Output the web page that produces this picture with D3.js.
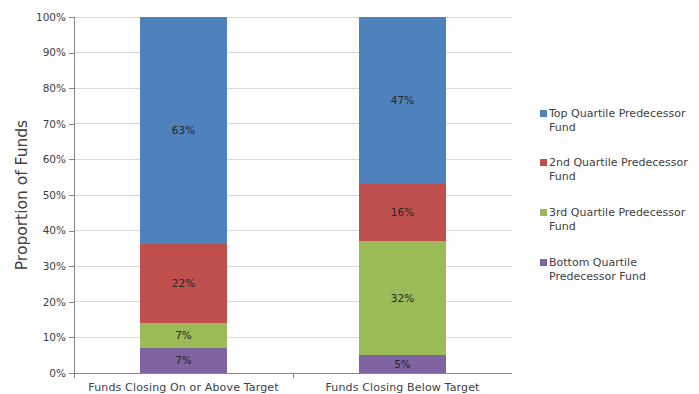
<!DOCTYPE html>
<html>
<head>
<meta charset="utf-8">
<script src="https://cdn.jsdelivr.net/npm/d3@7"></script>
<style>
  html, body { margin: 0; padding: 0; background: #fff; }
  svg { display: block; font-family: "DejaVu Sans", "Liberation Sans", sans-serif; }
</style>
</head>
<body>
<svg id="chart" width="699" height="394"></svg>
<script>
// Share of funds by predecessor-fund quartile, for each closing outcome
const categories = ["Funds Closing On or Above Target", "Funds Closing Below Target"];
const seriesNames = [
  "Bottom Quartile Predecessor Fund",
  "3rd Quartile Predecessor Fund",
  "2nd Quartile Predecessor Fund",
  "Top Quartile Predecessor Fund"
];
const bottomQuartile = [7, 5];
const thirdQuartile = [7, 32];
const secondQuartile = [22, 16];
const topQuartile = [63, 47];
const yTicks = [0, 0.1, 0.2, 0.3, 0.4, 0.5, 0.6, 0.7, 0.8, 0.9, 1.0];

const colors = {
  "Top Quartile Predecessor Fund": "#4F81BD",
  "2nd Quartile Predecessor Fund": "#C0504D",
  "3rd Quartile Predecessor Fund": "#9BBB59",
  "Bottom Quartile Predecessor Fund": "#8064A2"
};
const legendLines = {
  "Top Quartile Predecessor Fund": ["Top Quartile Predecessor", "Fund"],
  "2nd Quartile Predecessor Fund": ["2nd Quartile Predecessor", "Fund"],
  "3rd Quartile Predecessor Fund": ["3rd Quartile Predecessor", "Fund"],
  "Bottom Quartile Predecessor Fund": ["Bottom Quartile", "Predecessor Fund"]
};

const seriesValues = [bottomQuartile, thirdQuartile, secondQuartile, topQuartile];
const rows = categories.map((c, i) => {
  const r = { category: c };
  seriesNames.forEach((s, j) => { r[s] = seriesValues[j][i]; });
  return r;
});

const svg = d3.select("#chart");
const plot = { left: 74, right: 512, top: 17, bottom: 373 };

const x = d3.scaleBand().domain(categories).range([plot.left, plot.right]).paddingInner(0.6).paddingOuter(0.3);
const xBand = d3.scaleBand().domain(categories).range([plot.left, plot.right]);
const y = d3.scaleLinear().domain([0, 1]).range([plot.bottom, plot.top]);

const stacked = d3.stack().keys(seriesNames).offset(d3.stackOffsetExpand)(rows);

// gridlines
svg.append("g")
  .selectAll("line")
  .data(yTicks.filter(t => t > 0))
  .join("line")
  .attr("x1", plot.left).attr("x2", plot.right)
  .attr("y1", d => y(d)).attr("y2", d => y(d))
  .attr("stroke", "#d9d9d9").attr("stroke-width", 1)
  .attr("shape-rendering", "crispEdges");

// y axis
const yAxis = svg.append("g")
  .attr("transform", `translate(${plot.left},0)`)
  .call(d3.axisLeft(y).tickValues(yTicks).tickFormat(d3.format(".0%")).tickSize(5).tickPadding(3));
yAxis.select(".domain").attr("stroke", "#868686").attr("shape-rendering", "crispEdges");
yAxis.selectAll(".tick line").attr("stroke", "#868686").attr("shape-rendering", "crispEdges");
yAxis.selectAll(".tick text").attr("font-size", 10.5).attr("fill", "#404040").attr("font-family", "DejaVu Sans");

// bars
const layers = svg.append("g").selectAll("g")
  .data(stacked)
  .join("g")
  .attr("fill", d => colors[d.key]);

layers.selectAll("rect")
  .data(d => d.map(v => Object.assign(v, { key: d.key })))
  .join("rect")
  .attr("x", d => x(d.data.category))
  .attr("width", x.bandwidth())
  .attr("y", d => y(d[1]))
  .attr("height", d => y(d[0]) - y(d[1]))
  .attr("shape-rendering", "crispEdges");

// value labels
layers.selectAll("text")
  .data(d => d)
  .join("text")
  .attr("x", d => x(d.data.category) + x.bandwidth() / 2)
  .attr("y", d => (y(d[0]) + y(d[1])) / 2)
  .attr("dy", "0.35em")
  .attr("text-anchor", "middle")
  .attr("font-size", 10.5)
  .attr("fill", "#262626")
  .text(d => d.data[d.key] + "%");

// x axis
svg.append("line")
  .attr("x1", plot.left).attr("x2", plot.right)
  .attr("y1", plot.bottom).attr("y2", plot.bottom)
  .attr("stroke", "#868686").attr("shape-rendering", "crispEdges");
svg.append("g")
  .selectAll("line")
  .data(categories.slice(0, -1))
  .join("line")
  .attr("x1", d => xBand(d) + xBand.bandwidth()).attr("x2", d => xBand(d) + xBand.bandwidth())
  .attr("y1", plot.bottom).attr("y2", plot.bottom + 5)
  .attr("stroke", "#868686").attr("shape-rendering", "crispEdges");
svg.append("line")
  .attr("x1", plot.left).attr("x2", plot.left)
  .attr("y1", plot.bottom).attr("y2", plot.bottom + 5)
  .attr("stroke", "#868686").attr("shape-rendering", "crispEdges");
svg.append("g")
  .selectAll("text")
  .data(categories)
  .join("text")
  .attr("x", d => x(d) + x.bandwidth() / 2)
  .attr("y", 391)
  .attr("text-anchor", "middle")
  .attr("font-size", 11)
  .attr("letter-spacing", 0.15)
  .attr("fill", "#404040")
  .text(d => d);

// y axis title
svg.append("text")
  .attr("transform", `translate(27,${(plot.top + plot.bottom) / 2}) rotate(-90)`)
  .attr("text-anchor", "middle")
  .attr("font-size", 15.5)
  .attr("fill", "#404040")
  .text("Proportion of Funds");

// legend
const legendOrder = seriesNames.slice().reverse();
const legendY = [113, 162, 212, 262];
const legend = svg.append("g").selectAll("g")
  .data(legendOrder)
  .join("g")
  .attr("transform", (d, i) => `translate(540,${legendY[i]})`);
legend.append("rect")
  .attr("x", 0).attr("y", -3).attr("width", 7).attr("height", 7)
  .attr("fill", d => colors[d]);
legend.append("text")
  .attr("x", 9).attr("y", 0)
  .attr("font-size", 11)
  .attr("fill", "#404040")
  .selectAll("tspan")
  .data(d => legendLines[d])
  .join("tspan")
  .attr("x", 9)
  .attr("dy", (d, i) => i === 0 ? "0.35em" : "1.25em")
  .text(d => d);
</script>
</body>
</html>
